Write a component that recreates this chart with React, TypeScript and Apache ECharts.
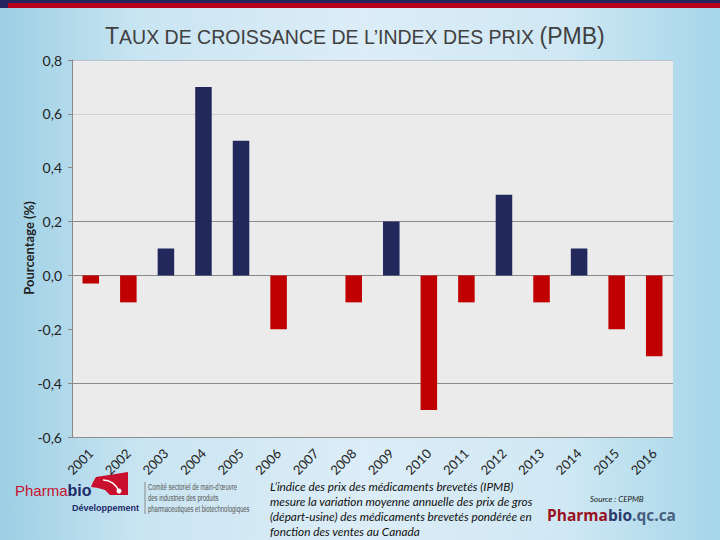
import { useEffect, useRef } from 'react'
import * as echarts from 'echarts'

const years = ['2001', '2002', '2003', '2004', '2005', '2006', '2007', '2008',
               '2009', '2010', '2011', '2012', '2013', '2014', '2015', '2016']
const growth = [-0.03, -0.1, 0.1, 0.7, 0.5, -0.2, 0, -0.1,
                0.2, -0.5, -0.1, 0.3, -0.1, 0.1, -0.2, -0.3]
const yMin = -0.6
const yMax = 0.8
const yStep = 0.2

const titleText = 'AUX DE CROISSANCE DE L\u2019INDEX DES PRIX '
const noteLines = [
  'L\u2019indice des prix des médicaments brevetés (IPMB)',
  'mesure la variation moyenne annuelle des prix de gros',
  '(départ-usine) des médicaments brevetés pondérée en',
  'fonction des ventes au Canada',
]
const comiteLines = [
  'Comité sectoriel de main-d\u2019œuvre',
  'des industries des produits',
  'pharmaceutiques et biotechnologiques',
]

const BLUE = '#22285c'
const RED  = '#c00000'
const FONT = 'Lato, "Open Sans", sans-serif'
const SANS = '"Liberation Sans", Arial, sans-serif'

export default function App() {
  const ref = useRef<HTMLDivElement>(null)

  useEffect(() => {
    if (!ref.current) return
    const chart = echarts.init(ref.current, null, { renderer: 'svg' })

    chart.setOption({
      animation: false,
      backgroundColor: 'transparent',
      grid: {
        left: 72, right: 47, top: 60, bottom: 103,
        show: true, backgroundColor: '#ebebeb', borderWidth: 0,
      },
      xAxis: [
        {
          type: 'category', data: years,
          axisLine:  { onZero: true, lineStyle: { color: '#8a8a8a', width: 1.2 } },
          axisTick:  { length: 4, lineStyle: { color: '#8a8a8a' } },
          axisLabel: { show: false },
        },
        {
          type: 'category', data: years,
          axisLine:  { show: false, onZero: true },
          axisTick:  { inside: true, length: 4, lineStyle: { color: '#8a8a8a' } },
          axisLabel: { show: false },
        },
        {
          type: 'category', data: years, position: 'bottom',
          axisLine:  { show: false, onZero: false },
          axisTick:  { show: false },
          axisLabel: { rotate: 45, margin: 14, color: '#222', fontSize: 13, fontFamily: FONT },
        },
      ],
      yAxis: {
        type: 'value', min: yMin, max: yMax, interval: yStep,
        axisLine:  { show: true, lineStyle: { color: '#8a8a8a' } },
        axisTick:  { show: true, length: 4, lineStyle: { color: '#8a8a8a' } },
        axisLabel: {
          color: '#222', fontSize: 14, fontFamily: FONT, margin: 10,
          formatter: (v: number) => (Math.abs(v) < 1e-9 ? 0 : v).toFixed(1).replace('.', ','),
        },
        splitLine: {
          lineStyle: {
            color: ['#8f8f8f', '#8a8a8a', 'transparent', 'transparent',
                    '#8a8a8a', 'transparent', '#cdd0d4', '#b9c6cf'],
          },
        },
      },
      series: [{
        type: 'bar',
        xAxisIndex: 0,
        barWidth: '44%',
        data: growth.map(v => ({
          value: v,
          itemStyle: { color: v >= 0 ? BLUE : RED },
        })),
      }],
      graphic: [
        // top stripes
        { type: 'rect', shape: { x: 0, y: 0, width: 720, height: 3 }, style: { fill: '#24235e' } },
        { type: 'rect', shape: { x: 8, y: 3, width: 712, height: 5 }, style: { fill: '#b4001a' } },
        { type: 'rect', shape: { x: 0, y: 0, width: 8, height: 8 }, style: { fill: '#24235e' } },
        // title
        {
          type: 'text', x: 105, y: 47,
          style: {
            text: '{t|T}{s|' + titleText + '}{t|(PMB)}',
            verticalAlign: 'bottom',
            rich: {
              t: { fontSize: 23, fontFamily: SANS, fill: '#404040', verticalAlign: 'bottom', lineHeight: 26 },
              s: { fontSize: 19.5, fontFamily: SANS, fill: '#404040', verticalAlign: 'bottom', lineHeight: 26 },
            },
          },
        },
        // y axis name
        {
          type: 'text', x: 29, y: 248, rotation: Math.PI / 2,
          style: {
            text: 'Pourcentage (%)', align: 'center', verticalAlign: 'middle',
            font: 'bold 13px ' + FONT, fill: '#222',
          },
        },
        // Pharmabio logo
        {
          type: 'polygon',
          shape: { points: [[96, 477], [128, 472], [128, 495], [110, 495], [105, 490], [98, 488], [91, 487], [93, 482]] },
          style: { fill: '#c8102e' },
        },
        {
          type: 'arc',
          shape: { cx: 103, cy: 497, r: 17, startAngle: -Math.PI / 2, endAngle: -0.35 },
          style: { stroke: '#fff', lineWidth: 1.5, fill: 'none' },
        },
        { type: 'circle', shape: { cx: 119, cy: 491, r: 2.5 }, style: { fill: '#fff' } },
        {
          type: 'text', x: 15, y: 490,
          style: {
            text: '{a|Pharma}{b|bio}', verticalAlign: 'middle',
            rich: {
              a: { fontSize: 15, fontFamily: SANS, fill: '#c8102e' },
              b: { fontSize: 16, fontWeight: 'bold', fontFamily: SANS, fill: '#1d2a66' },
            },
          },
        },
        {
          type: 'text', x: 72, y: 508,
          style: {
            text: 'Développement', verticalAlign: 'middle',
            font: 'bold 9px ' + SANS, fill: '#1d2a66',
          },
        },
        { type: 'line', shape: { x1: 145, y1: 482, x2: 145, y2: 514 }, style: { stroke: '#8a8a8a', lineWidth: 1 } },
        {
          type: 'text', x: 148, y: 482, scaleX: 0.66,
          style: {
            text: comiteLines.join('\n'), lineHeight: 11,
            font: '9px ' + SANS, fill: '#555',
          },
        },
        // note
        {
          type: 'text', x: 270, y: 479,
          style: {
            text: noteLines.join('\n'), lineHeight: 15,
            font: 'italic 11.8px ' + FONT, fill: '#111',
          },
        },
        {
          type: 'text', x: 590, y: 499,
          style: {
            text: 'Source : CEPMB', verticalAlign: 'middle',
            font: 'italic 8px ' + FONT, fill: '#222',
          },
        },
        {
          type: 'text', x: 547, y: 515,
          style: {
            text: '{a|Pharma}{b|bio}{c|.qc.ca}', verticalAlign: 'middle',
            rich: {
              a: { fontSize: 15.5, fontWeight: 'bold', fontFamily: '"Open Sans", sans-serif', fill: '#9b1020' },
              b: { fontSize: 15.5, fontWeight: 'bold', fontFamily: '"Open Sans", sans-serif', fill: '#2a3a6a' },
              c: { fontSize: 15.5, fontWeight: 'bold', fontFamily: '"Open Sans", sans-serif', fill: '#46607e' },
            },
          },
        },
      ],
    })

    return () => { chart.dispose() }
  }, [])

  return (
    <div
      style={{
        position: 'fixed', left: 0, top: 0, width: 720, height: 540,
        background: 'linear-gradient(90deg, #9ccfe4 0%, #cae5f2 20%, #dcedf7 50%, #d0e8f4 78%, #a5d6e9 100%)',
      }}
    >
      <div ref={ref} style={{ width: 720, height: 540 }} />
    </div>
  )
}
